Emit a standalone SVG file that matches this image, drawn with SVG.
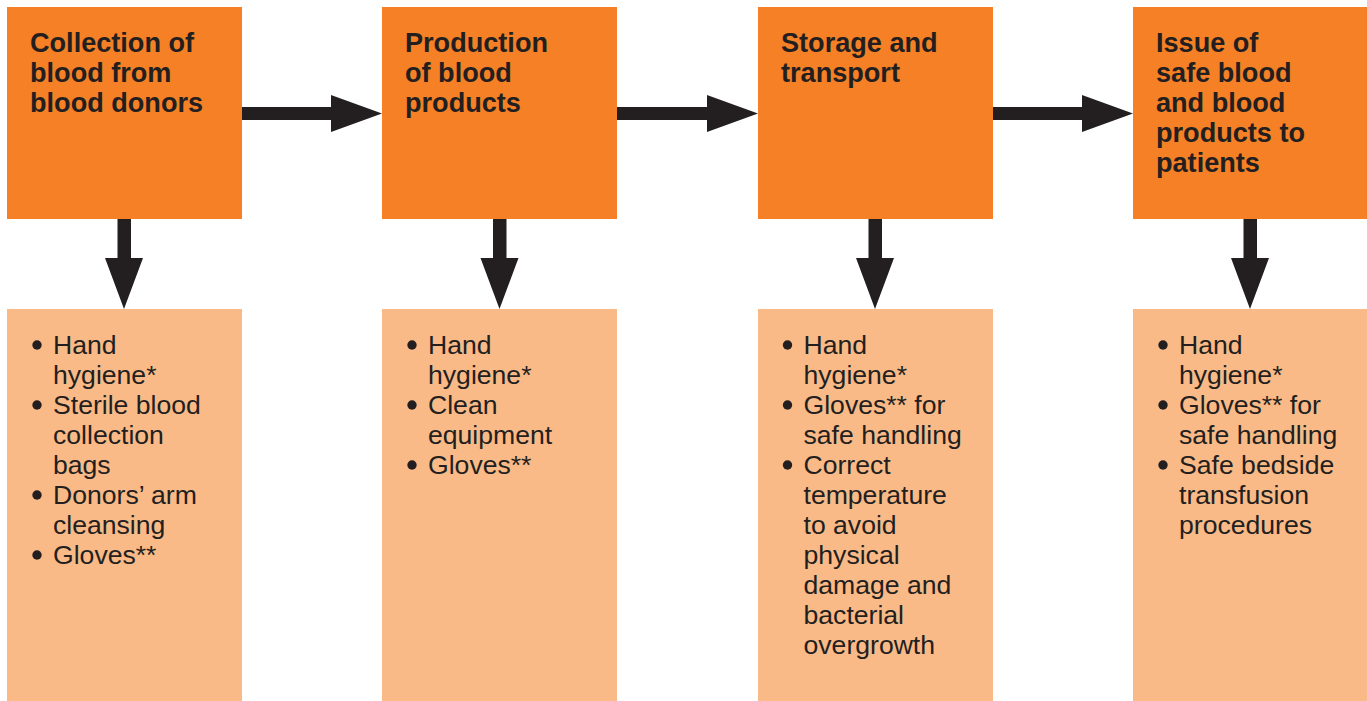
<svg xmlns="http://www.w3.org/2000/svg" width="1367" height="701" viewBox="0 0 1367 701">
<style>
.top{fill:#F58025}
.bot{fill:#F9BA87}
.t{font-family:"Liberation Sans",Arial,Helvetica,sans-serif;font-size:26.6px;fill:#231F20}
.b{font-weight:bold;font-size:27.1px}
.arr{fill:#231F20}
</style>
<defs>
<circle id="dot" r="4.7" fill="#231F20"/>
</defs>
<rect width="1367" height="701" fill="#ffffff"/>
<g id="connectors" class="arr">
<polygon points="242,107 331,107 331,95 382,113.5 331,132 331,120 242,120"/>
<polygon points="617,107 707,107 707,95 758,113.5 707,132 707,120 617,120"/>
<polygon points="993,107 1082,107 1082,95 1133,113.5 1082,132 1082,120 993,120"/>
<polygon points="117.5,219 131,219 131,258 143,258 124,309 105,258 117.5,258"/>
<polygon points="493,219 506.5,219 506.5,258 518.5,258 499.5,309 480.5,258 493,258"/>
<polygon points="868.5,219 882,219 882,258 894,258 875,309 856,258 868.5,258"/>
<polygon points="1243.5,219 1257,219 1257,258 1269,258 1250,309 1231,258 1243.5,258"/>
</g>
<g id="node1">
<rect class="top" x="7" y="7" width="235" height="212"/>
<text class="t b" x="30"><tspan x="30" y="52">Collection of</tspan><tspan x="30" y="82">blood from</tspan><tspan x="30" y="112">blood donors</tspan></text>
</g>
<g id="node2">
<rect class="top" x="382" y="7" width="235" height="212"/>
<text class="t b"><tspan x="405" y="52">Production</tspan><tspan x="405" y="82">of blood</tspan><tspan x="405" y="112">products</tspan></text>
</g>
<g id="node3">
<rect class="top" x="758" y="7" width="235" height="212"/>
<text class="t b"><tspan x="781" y="52">Storage and</tspan><tspan x="781" y="82">transport</tspan></text>
</g>
<g id="node4">
<rect class="top" x="1133" y="7" width="234" height="212"/>
<text class="t b"><tspan x="1156" y="52">Issue of</tspan><tspan x="1156" y="82">safe blood</tspan><tspan x="1156" y="112">and blood</tspan><tspan x="1156" y="142">products to</tspan><tspan x="1156" y="172">patients</tspan></text>
</g>
<g id="list1">
<rect class="bot" x="7" y="309" width="235" height="392"/>
<use href="#dot" x="37" y="345"/><use href="#dot" x="37" y="405"/><use href="#dot" x="37" y="495"/><use href="#dot" x="37" y="555"/>
<text class="t"><tspan x="53" y="354">Hand</tspan><tspan x="53" y="384">hygiene*</tspan><tspan x="53" y="414">Sterile blood</tspan><tspan x="53" y="444">collection</tspan><tspan x="53" y="474">bags</tspan><tspan x="53" y="504">Donors’ arm</tspan><tspan x="53" y="534">cleansing</tspan><tspan x="53" y="564">Gloves**</tspan></text>
</g>
<g id="list2">
<rect class="bot" x="382" y="309" width="235" height="392"/>
<use href="#dot" x="412" y="345"/><use href="#dot" x="412" y="405"/><use href="#dot" x="412" y="465"/>
<text class="t"><tspan x="428" y="354">Hand</tspan><tspan x="428" y="384">hygiene*</tspan><tspan x="428" y="414">Clean</tspan><tspan x="428" y="444">equipment</tspan><tspan x="428" y="474">Gloves**</tspan></text>
</g>
<g id="list3">
<rect class="bot" x="758" y="309" width="235" height="392"/>
<use href="#dot" x="787.5" y="345"/><use href="#dot" x="787.5" y="405"/><use href="#dot" x="787.5" y="465"/>
<text class="t"><tspan x="803.5" y="354">Hand</tspan><tspan x="803.5" y="384">hygiene*</tspan><tspan x="803.5" y="414">Gloves** for</tspan><tspan x="803.5" y="444">safe handling</tspan><tspan x="803.5" y="474">Correct</tspan><tspan x="803.5" y="504">temperature</tspan><tspan x="803.5" y="534">to avoid</tspan><tspan x="803.5" y="564">physical</tspan><tspan x="803.5" y="594">damage and</tspan><tspan x="803.5" y="624">bacterial</tspan><tspan x="803.5" y="654">overgrowth</tspan></text>
</g>
<g id="list4">
<rect class="bot" x="1133" y="309" width="234" height="392"/>
<use href="#dot" x="1163" y="345"/><use href="#dot" x="1163" y="405"/><use href="#dot" x="1163" y="465"/>
<text class="t"><tspan x="1179" y="354">Hand</tspan><tspan x="1179" y="384">hygiene*</tspan><tspan x="1179" y="414">Gloves** for</tspan><tspan x="1179" y="444">safe handling</tspan><tspan x="1179" y="474">Safe bedside</tspan><tspan x="1179" y="504">transfusion</tspan><tspan x="1179" y="534">procedures</tspan></text>
</g>
</svg>
